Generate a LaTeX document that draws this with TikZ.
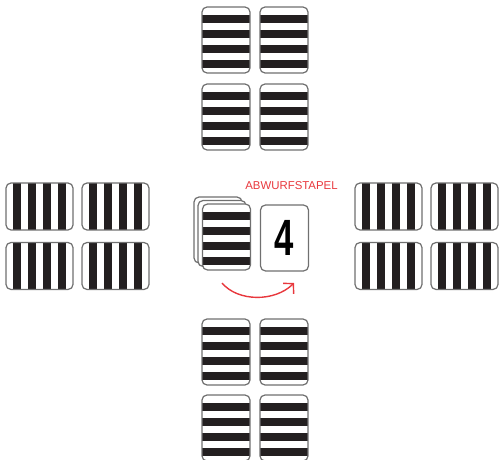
\documentclass[tikz,border=0pt]{standalone}
\usepackage{fontspec}
\setmainfont{Liberation Sans}
\usetikzlibrary{arrows.meta}
\definecolor{cardgray}{RGB}{112,112,112}
\definecolor{stripeblack}{RGB}{35,31,32}
\definecolor{labelred}{RGB}{232,56,61}
\tikzset{
  cardbase/.style={draw=cardgray, line width=1.2pt, rounded corners=5pt, fill=white, inner sep=0pt, outer sep=0pt},
  portrait/.style={cardbase, minimum width=48pt, minimum height=66pt,
    path picture={
      \foreach \i in {0,1,2,3}
        \fill[stripeblack, sharp corners] ([yshift=-8pt-\i*15pt]path picture bounding box.north west) rectangle ([yshift=-15.7pt-\i*15pt]path picture bounding box.north east);
    }},
  landscape/.style={cardbase, minimum width=67pt, minimum height=47pt,
    path picture={
      \foreach \i in {0,1,2,3}
        \fill[stripeblack, sharp corners] ([xshift=7pt+\i*15pt]path picture bounding box.north west) rectangle ([xshift=15pt+\i*15pt]path picture bounding box.south west);
    }},
  blankcard/.style={cardbase, minimum width=48pt, minimum height=66pt},
  redarrow/.style={draw=labelred, line width=1.4pt, -{Straight Barb[length=7pt,width=15pt]}},
}
\begin{document}
\begin{tikzpicture}[x=1pt, y=-1pt]
\useasboundingbox (0,0) rectangle (499,460);
\clip (0,0) rectangle (499,460);
% top
\node[portrait] (t1) at (226,40) {};
\node[portrait] (t2) at (284,40) {};
\node[portrait] (t3) at (226,117) {};
\node[portrait] (t4) at (284,117) {};
% bottom
\node[portrait] (b1) at (226,352) {};
\node[portrait] (b2) at (284,352) {};
\node[portrait] (b3) at (226,428) {};
\node[portrait] (b4) at (284,428) {};
% left
\node[landscape] (l1) at (39.5,206.5) {};
\node[landscape] (l2) at (115.5,206.5) {};
\node[landscape] (l3) at (39.5,266) {};
\node[landscape] (l4) at (115.5,266) {};
% right
\node[landscape] (r1) at (388.5,206.5) {};
\node[landscape] (r2) at (464.5,206.5) {};
\node[landscape] (r3) at (388.5,266) {};
\node[landscape] (r4) at (464.5,266) {};
% draw pile
\node[blankcard] (d3) at (218,230) {};
\node[blankcard] (d2) at (222,233.5) {};
\node[portrait] (d1) at (226.5,237) {};
% discard pile
\node[blankcard] (disc) at (284.5,238) {\scalebox{0.68}[1]{\fontsize{51}{51}\selectfont\bfseries 4}};
\node[text=labelred, font=\fontsize{11.4}{12}\selectfont, inner sep=0pt] (lbl) at (291.5,185.5) {ABWURFSTAPEL};
% arrow
\coordinate (arrS) at (222,283);
\coordinate (arrE) at (294,283);
\draw[redarrow] (arrS) .. controls (238,302) and (275,302) .. (arrE);
\end{tikzpicture}
\end{document}
